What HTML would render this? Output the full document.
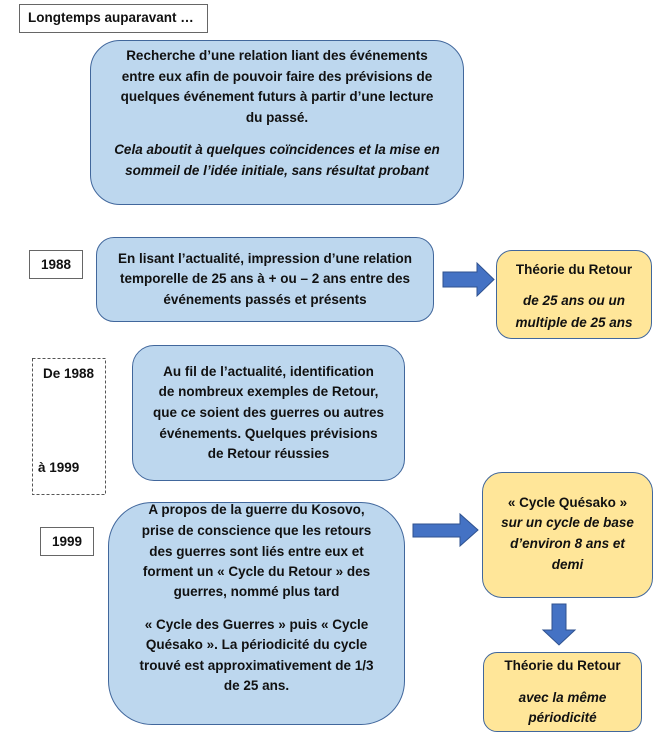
<!DOCTYPE html>
<html><head><meta charset="utf-8">
<style>
body{margin:0;background:#fff;width:656px;height:737px;position:relative;overflow:hidden;font-family:"Liberation Sans",sans-serif;color:#111;}
.b{position:absolute;box-sizing:border-box;}
.blue{background:#bdd7ee;border:1.5px solid #41679c;}
.yel{background:#ffe699;border:1.5px solid #41679c;}
.lab{background:#fff;border:1.5px solid #666;}
.t{position:absolute;text-align:center;font-weight:bold;font-size:13.5px;line-height:16px;white-space:nowrap;}
.i{font-style:italic;}
</style></head><body>

<div class="b lab" style="left:19px;top:4px;width:189px;height:29px;"></div>
<div class="t" style="left:19px;width:189px;top:10px;text-align:left;padding-left:9px;">Longtemps auparavant …</div>

<div class="b blue" style="left:90px;top:40px;width:374px;height:165px;border-radius:30px;"></div>
<div class="t" style="left:90px;width:374px;top:48px;">Recherche d’une relation liant des événements</div>
<div class="t" style="left:90px;width:374px;top:69px;">entre eux afin de pouvoir faire des prévisions de</div>
<div class="t" style="left:90px;width:374px;top:89px;">quelques événement futurs à partir d’une lecture</div>
<div class="t" style="left:90px;width:374px;top:110px;">du passé.</div>
<div class="t i" style="left:90px;width:374px;top:142px;">Cela aboutit à quelques coïncidences et la mise en</div>
<div class="t i" style="left:90px;width:374px;top:163px;">sommeil de l’idée initiale, sans résultat probant</div>

<div class="b lab" style="left:29px;top:250px;width:54px;height:29px;"></div>
<div class="t" style="left:29px;width:54px;top:257px;">1988</div>

<div class="b blue" style="left:96px;top:237px;width:338px;height:85px;border-radius:18px;"></div>
<div class="t" style="left:96px;width:338px;top:251px;">En lisant l’actualité, impression d’une relation</div>
<div class="t" style="left:96px;width:338px;top:271px;">temporelle de 25 ans à + ou – 2 ans entre des</div>
<div class="t" style="left:96px;width:338px;top:292px;">événements passés et présents</div>

<svg class="b" style="left:0;top:0" width="656" height="737">
<polygon points="443,272 477,272 477,263 494,279.5 477,296 477,287 443,287" fill="#4472c4" stroke="#2f528f" stroke-width="1"/>
<polygon points="413,524 460,524 460,514 478,530 460,546 460,537 413,537" fill="#4472c4" stroke="#2f528f" stroke-width="1"/>
<polygon points="552,604 566,604 566,630 575,630 559,645 543,630 552,630" fill="#4472c4" stroke="#2f528f" stroke-width="1"/>
<rect x="32.5" y="358.5" width="73" height="136" fill="none" stroke="#555" stroke-dasharray="3,2"/>
</svg>

<div class="b yel" style="left:496px;top:250px;width:156px;height:89px;border-radius:16px;"></div>
<div class="t" style="left:496px;width:156px;top:262px;">Théorie du Retour</div>
<div class="t i" style="left:496px;width:156px;top:293px;">de 25 ans ou un</div>
<div class="t i" style="left:496px;width:156px;top:315px;">multiple de 25 ans</div>

<div class="t" style="left:32px;width:73px;top:366px;">De 1988</div>
<div class="t" style="left:38px;top:460px;text-align:left;">à 1999</div>

<div class="b blue" style="left:132px;top:345px;width:273px;height:136px;border-radius:22px;"></div>
<div class="t" style="left:132px;width:273px;top:364px;">Au fil de l’actualité, identification</div>
<div class="t" style="left:132px;width:273px;top:384px;">de nombreux exemples de Retour,</div>
<div class="t" style="left:132px;width:273px;top:405px;">que ce soient des guerres ou autres</div>
<div class="t" style="left:132px;width:273px;top:426px;">événements. Quelques prévisions</div>
<div class="t" style="left:132px;width:273px;top:446px;">de Retour réussies</div>

<div class="b lab" style="left:40px;top:527px;width:54px;height:29px;"></div>
<div class="t" style="left:40px;width:54px;top:534px;">1999</div>

<div class="b blue" style="left:108px;top:502px;width:297px;height:223px;border-radius:44px;"></div>
<div class="t" style="left:108px;width:297px;top:502px;">A propos de la guerre du Kosovo,</div>
<div class="t" style="left:108px;width:297px;top:523px;">prise de conscience que les retours</div>
<div class="t" style="left:108px;width:297px;top:544px;">des guerres sont liés entre eux et</div>
<div class="t" style="left:108px;width:297px;top:564px;">forment un « Cycle du Retour » des</div>
<div class="t" style="left:108px;width:297px;top:584px;">guerres, nommé plus tard</div>
<div class="t" style="left:108px;width:297px;top:617px;">« Cycle des Guerres » puis « Cycle</div>
<div class="t" style="left:108px;width:297px;top:637px;">Quésako ». La périodicité du cycle</div>
<div class="t" style="left:108px;width:297px;top:658px;">trouvé est approximativement de 1/3</div>
<div class="t" style="left:108px;width:297px;top:678px;">de 25 ans.</div>

<div class="b yel" style="left:482px;top:472px;width:171px;height:126px;border-radius:20px;"></div>
<div class="t" style="left:482px;width:171px;top:495px;">« Cycle Quésako »</div>
<div class="t i" style="left:482px;width:171px;top:515px;">sur un cycle de base</div>
<div class="t i" style="left:482px;width:171px;top:536px;">d’environ 8 ans et</div>
<div class="t i" style="left:482px;width:171px;top:557px;">demi</div>

<div class="b yel" style="left:483px;top:652px;width:159px;height:80px;border-radius:14px;"></div>
<div class="t" style="left:483px;width:159px;top:658px;">Théorie du Retour</div>
<div class="t i" style="left:483px;width:159px;top:690px;">avec la même</div>
<div class="t i" style="left:483px;width:159px;top:710px;">périodicité</div>

</body></html>
